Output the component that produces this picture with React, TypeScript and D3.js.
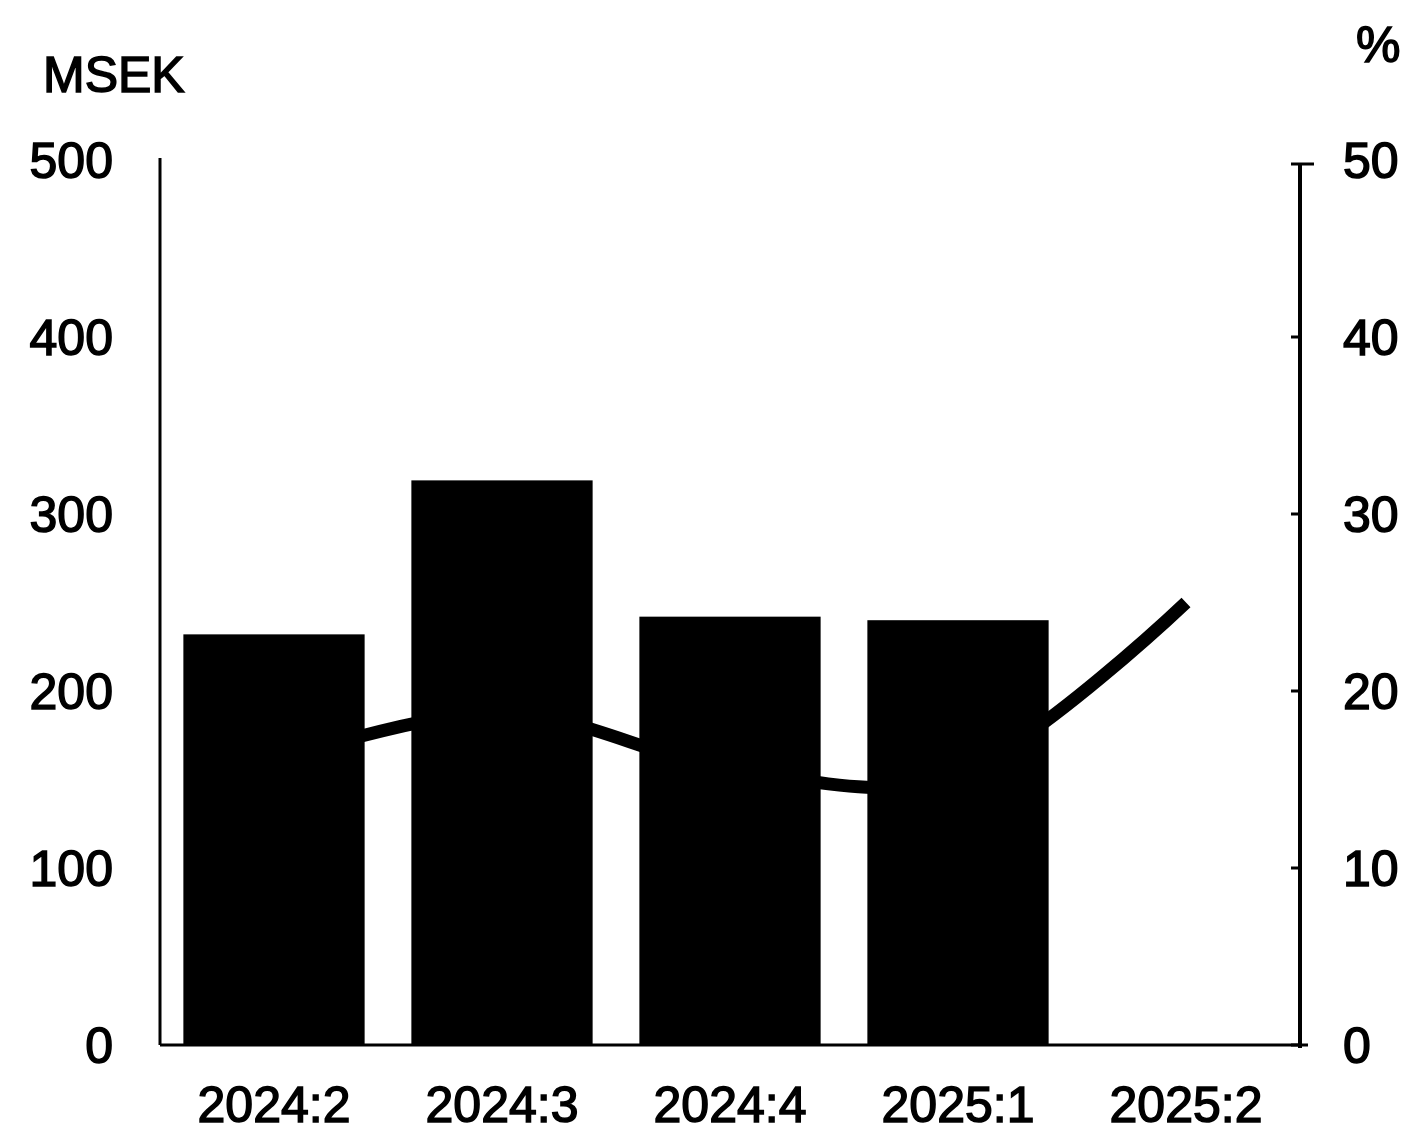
import React from "react";
import * as d3 from "d3";

const categories = ["2024:2", "2024:3", "2024:4", "2025:1", "2025:2"];
const barValues = [232, 319, 242, 240, 0];
const lineValues = [16.0, 18.8, 15.6, 15.3, 25.0];
const leftTicks = [0, 100, 200, 300, 400, 500];
const rightTicks = [0, 10, 20, 30, 40, 50];
const leftUnit = "MSEK";
const rightUnit = "%";

const W = 1403;
const H = 1130;
const X0 = 160;
const X1 = 1300;
const Y0 = 1045;
const Y1 = 160;
const FONT = "'Liberation Sans', Arial, sans-serif";

export default function App() {
  const x = d3
    .scaleBand<string>()
    .domain(categories)
    .range([X0, X1])
    .paddingInner(0.205)
    .paddingOuter(0.1025);
  const yL = d3.scaleLinear().domain([0, 500]).range([Y0, Y1]);
  const yR = d3.scaleLinear().domain([0, 50]).range([Y0, Y1]);

  const line = d3
    .line<number>()
    .x((_, i) => (x(categories[i]) as number) + x.bandwidth() / 2)
    .y((d) => yR(d))
    .curve(d3.curveCardinal.tension(0));

  const textStyle = {
    fontFamily: FONT,
    fontSize: 50,
    fill: "#000",
    stroke: "#000",
    strokeWidth: 1.5,
  } as React.CSSProperties;

  return (
    <svg
      width={W}
      height={H}
      style={{ position: "absolute", left: 0, top: 0, background: "#fff" }}
    >
      <rect x={0} y={0} width={W} height={H} fill="#fff" />
      {/* bars */}
      {barValues.map((v, i) => (
        <rect
          key={categories[i]}
          x={x(categories[i])}
          y={yL(v)}
          width={x.bandwidth()}
          height={Y0 - yL(v)}
          fill="#000"
        />
      ))}
      {/* line */}
      <path
        d={line(lineValues) || ""}
        fill="none"
        stroke="#000"
        strokeWidth={13}
        strokeLinejoin="round"
      />
      {/* axes */}
      <line x1={X0} x2={X0} y1={Y1 - 2} y2={Y0} stroke="#000" strokeWidth={3} />
      <line x1={X1} x2={X1} y1={Y1 + 3} y2={Y0 + 3} stroke="#000" strokeWidth={4} />
      <line x1={X0} x2={X1 + 8} y1={Y0} y2={Y0} stroke="#000" strokeWidth={3} />
      {rightTicks.map((t) => (
        <line
          key={"rt" + t}
          x1={X1 - 9}
          x2={t === 50 ? X1 + 14 : X1}
          y1={t === 50 ? yR(t) + 4 : yR(t)}
          y2={t === 50 ? yR(t) + 4 : yR(t)}
          stroke="#000"
          strokeWidth={3}
        />
      ))}
      {/* left tick labels */}
      {leftTicks.map((t) => (
        <text
          key={"lt" + t}
          x={113}
          y={yL(t)}
          dy="0.36em"
          textAnchor="end"
          style={textStyle}
        >
          {t}
        </text>
      ))}
      {rightTicks.map((t) => (
        <text
          key={"rl" + t}
          x={1343}
          y={yR(t)}
          dy="0.36em"
          textAnchor="start"
          style={textStyle}
        >
          {t}
        </text>
      ))}
      <text x={43} y={92} style={textStyle}>
        {leftUnit}
      </text>
      <text x={1356} y={62} style={textStyle}>
        {rightUnit}
      </text>
      {categories.map((c) => (
        <text
          key={"xl" + c}
          x={(x(c) as number) + x.bandwidth() / 2}
          y={1122}
          textAnchor="middle"
          style={textStyle}
        >
          {c}
        </text>
      ))}
    </svg>
  );
}
